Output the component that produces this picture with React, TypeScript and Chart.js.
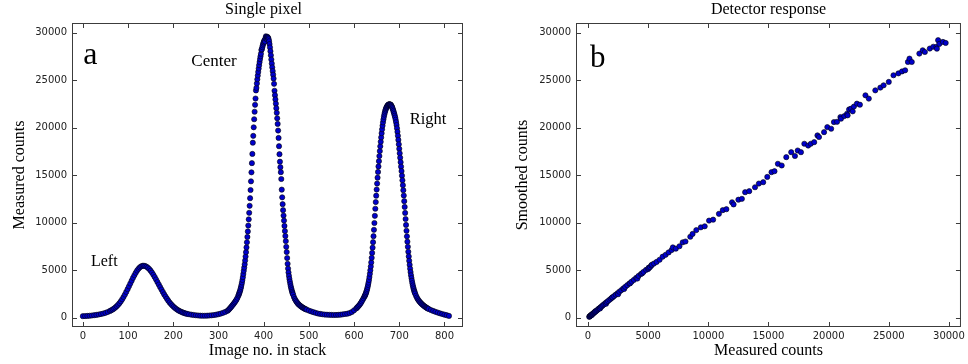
import React, { useEffect, useRef } from 'react';
import { Chart, registerables } from 'chart.js';

Chart.register(...registerables);

// ---------- Panel a: single pixel ----------
const imageTicks = [0, 100, 200, 300, 400, 500, 600, 700, 800];
const countTicks = [0, 5000, 10000, 15000, 20000, 25000, 30000];

const imageNo = [
  0, 5, 10, 15, 20, 25, 30, 35, 40, 45, 50, 55,
  60, 63, 66, 69, 72, 75, 78, 81, 84, 87, 90, 93, 96, 99, 102, 105, 108, 111, 114, 117, 120, 123, 126, 129, 132, 135,
  138, 141, 144, 147, 150, 153, 156, 159, 162, 165, 168, 171, 174, 177, 180, 183, 186, 189, 192, 195, 198, 201, 204,
  207, 210, 213, 216, 219, 222, 225, 228, 231,
  235, 240, 245, 250, 255, 260, 265, 270, 275, 280, 285, 290, 295, 300, 305, 310, 315,
  320, 322, 324, 326, 328, 330, 332, 334, 336, 338, 340, 342,
  344, 345, 346, 347, 348, 349, 350, 351, 352, 353, 354, 355, 356, 357, 358, 359, 360, 361, 362, 363, 364,
  365, 366, 367, 368, 369, 370, 371, 372, 373, 374, 375, 376, 377, 378, 379, 380, 381, 382, 383, 384,
  385, 386, 387, 388, 389, 390, 391, 392, 393, 394, 395, 396, 397, 398, 399, 400, 401, 402, 403, 404,
  405, 406, 407, 408, 409, 410, 411, 412, 413, 414, 415, 416, 417, 418, 419, 420, 421, 422, 423, 424,
  425, 426, 427, 428, 429, 430, 431, 432, 433, 434, 435, 436, 437, 438, 439, 440, 441, 442, 443, 444,
  445, 446, 447, 448, 449, 450, 451, 452, 453, 454, 455, 456, 457, 458, 459, 460, 461, 462, 463, 464, 465,
  467, 469, 471, 473, 475, 477, 479, 481, 483, 485, 487, 489, 491, 493, 495,
  500, 505, 510, 515, 520, 525, 530, 535, 540, 545, 550, 555, 560, 565, 570, 575, 580, 585, 590, 595, 600,
  605, 607, 609, 611, 613, 615, 617, 619, 621, 623,
  624, 625, 626, 627, 628, 629, 630, 631, 632, 633, 634, 635, 636, 637, 638, 639, 640, 641, 642, 643,
  644, 645, 646, 647, 648, 649, 650, 651, 652, 653, 654, 655, 656, 657, 658, 659, 660, 661, 662, 663,
  664, 665, 666, 667, 668, 669, 670, 671, 672, 673, 674, 675, 676, 677, 678, 679, 680, 681, 682, 683,
  684, 685, 686, 687, 688, 689, 690, 691, 692, 693, 694, 695, 696, 697, 698, 699, 700, 701, 702, 703,
  704, 705, 706, 707, 708, 709, 710, 711, 712, 713, 714, 715, 716, 717, 718, 719, 720, 721, 722, 723,
  724, 725, 726, 727, 728, 729, 730, 731, 732, 733, 734, 735,
  737, 739, 741, 743, 745, 747, 749, 751, 753, 755, 757, 759, 761, 763, 765,
  770, 775, 780, 785, 790, 795, 800, 805, 810,
];

const measuredCounts = [
  140, 150, 165, 185, 210, 240, 275, 315, 365, 420, 490, 580,
  690, 765, 850, 940, 1060, 1190, 1340, 1510, 1700, 1920, 2160, 2410, 2690, 2980, 3280, 3580, 3880, 4175, 4450, 4710, 4940, 5130, 5280, 5380, 5440, 5450,
  5416, 5344, 5238, 5096, 4925, 4724, 4500, 4257, 4000, 3731, 3466, 3200, 2940, 2680, 2430, 2200, 1980, 1770, 1580, 1410, 1260, 1120, 1000,
  890, 790, 705, 630, 570, 510, 460, 415, 375,
  340, 300, 265, 235, 210, 195, 185, 185, 195, 210, 230, 260, 300, 350, 410, 490, 590,
  700, 790, 890, 1000, 1110, 1230, 1350, 1470, 1600, 1740, 1890, 2070,
  2290, 2420, 2560, 2700, 2840, 3030, 3220, 3440, 3680, 3950, 4250, 4580, 4920, 5250, 5600, 6000, 6420, 6880, 7380, 7920, 8480,
  9060, 9680, 10330, 11020, 11760, 12560, 13420, 14330, 15280, 16250, 17220, 18400, 19120, 20020, 20870, 21660, 22390, 23050, 23900, 24170,
  24640, 25070, 25470, 25850, 26210, 26560, 26890, 27200, 27490, 27760, 28150, 28240, 28450, 28640, 28810, 28960, 29090, 29200, 29050, 29380,
  29600, 29500, 29300, 29540, 29500, 29420, 29290, 29080, 28780, 28430, 28030, 27600, 27160, 26730, 26330, 25940, 25560, 25150, 24600, 23870,
  23400, 22960, 22510, 22030, 21550, 20970, 20380, 19680, 18900, 18030, 17190, 16400, 15820, 15300, 14580, 13460, 12650, 11930, 11300, 10730,
  10200, 9640, 9100, 8580, 8040, 7440, 6890, 6260, 5650, 5150, 4740, 4380, 4060, 3780, 3520, 3280, 3070, 2880, 2710, 2560, 2420,
  2160, 1950, 1780, 1640, 1510, 1400, 1310, 1230, 1160, 1090, 1030, 970, 920, 870, 830,
  730, 640, 560, 490, 420, 380, 340, 310, 295, 285, 270, 265, 270, 280, 300, 330, 370, 400, 470, 580, 760,
  960, 1060, 1160, 1270, 1390, 1530, 1690, 1860, 2030, 2210,
  2300, 2410, 2530, 2670, 2830, 3010, 3210, 3430, 3670, 3950, 4260, 4600, 4970, 5370, 5800, 6280, 6800, 7350, 7930, 8560,
  9230, 9950, 10700, 11450, 12150, 12820, 13470, 14100, 14720, 15320, 15900, 16460, 17000, 17520, 18020, 18500, 18960, 19400, 19810, 20190,
  20540, 20850, 21120, 21360, 21570, 21750, 21900, 22030, 22140, 22230, 22300, 22360, 22400, 22430, 22440, 22430, 22420, 22400, 22340, 22260,
  22160, 22040, 21900, 21750, 21590, 21420, 21240, 21050, 20820, 20560, 20260, 19920, 19540, 19130, 18690, 18230, 17760, 17290, 16820, 16350,
  15880, 15410, 14930, 14440, 13930, 13400, 12840, 12250, 11640, 11010, 10370, 9740, 9130, 8540, 7980, 7440, 6920, 6430, 5970, 5540,
  5140, 4780, 4450, 4150, 3870, 3610, 3380, 3170, 2980, 2810, 2660, 2530,
  2300, 2100, 1930, 1790, 1670, 1560, 1460, 1370, 1290, 1210, 1140, 1070, 1010, 950, 900,
  790, 690, 600, 520, 440, 370, 300, 240, 170,
];

// ---------- Panel b: detector response ----------
const responseTicks = [0, 5000, 10000, 15000, 20000, 25000, 30000];

const responseMeasured = [
  100, 130, 160, 200, 230, 270, 300, 310, 350, 400, 450, 500, 560, 600, 620, 690, 760, 830, 900, 980,
  1000, 1060, 1150, 1240, 1340, 1440, 1500, 1550, 1660, 1780, 1900, 2000, 2030, 2160, 2300, 2450, 2500, 2600, 2760, 2920,
  3000, 3090, 3260, 3440, 3500, 3620, 3810, 4000, 4100, 4200, 4400, 4500, 4610, 4820, 5000, 5040, 5150, 5260, 5300, 5480,
  5700, 5950, 6200, 6450, 6700, 6950,
  7050, 7300, 7600, 7870, 8100, 8500, 8690, 9000, 9380, 9700, 10060, 10400, 10880, 11200, 11500, 11970, 12100, 12500, 12790, 13060,
  13400, 13880, 14200, 14560, 14900, 15250, 15500, 15780, 16100, 16480, 16890, 17200, 17430, 17700, 17980, 18300, 18520, 18800, 19070, 19200,
  19620, 19890, 20210, 20440, 20700, 20980, 21030, 21300, 21530, 21580, 21700, 21860, 22000, 22100, 22350, 22600, 23060, 23340, 23880, 24300,
  24570, 25000, 25390, 25800, 26100, 26360, 26590, 26720, 26910, 27540, 27820, 28000, 28410, 28700, 28960, 29000, 29100, 29200, 29500, 29730,
];

const responseSmoothed = [
  70, 110, 150, 180, 230, 260, 250, 310, 350, 390, 450, 510, 560, 650, 630, 700, 770, 860, 930, 1010,
  950, 1100, 1190, 1300, 1390, 1510, 1450, 1620, 1730, 1860, 1980, 2100, 2120, 2250, 2400, 2550, 2450, 2710, 2870, 3050,
  3000, 3220, 3400, 3580, 3600, 3770, 3960, 4170, 4100, 4380, 4580, 4650, 4800, 5010, 5100, 5240, 5300, 5470, 5550, 5680,
  5850, 6080, 6400, 6600, 6850, 7100,
  7380, 7250, 7500, 7910, 8000, 8500, 8800, 9200, 9490, 9600, 10200, 10300, 10910, 11300, 11400, 12130, 11900, 12400, 12490, 13190,
  13300, 13710, 14100, 14240, 14800, 15300, 15400, 16180, 16000, 16880, 17400, 17000, 17580, 17400, 18290, 18100, 18290, 18460, 19170, 19000,
  19510, 20040, 19870, 20570, 20600, 21100, 20930, 21200, 21450, 21280, 21900, 21980, 21700, 22200, 22510, 22400, 23390, 23040, 23910, 24200,
  24440, 24800, 25500, 25700, 25900, 26020, 26900, 27250, 26900, 27780, 28130, 27950, 28310, 28500, 28480, 28300, 29190, 28800, 29010, 28900,
];

const SERIF = '"Liberation Serif", "Times New Roman", serif';
const SANS = '"DejaVu Sans", sans-serif';

type Note = { text: string; x: number; y: number; size: number };

function framePlugin(title: string, titleDx: number, notes: Note[]) {
  return {
    id: 'frameAndText',
    afterDraw(chart: any) {
      const { ctx, chartArea } = chart;
      const { left, right, top, bottom } = chartArea;
      const xs = chart.scales.x;
      const ys = chart.scales.y;
      ctx.save();
      ctx.strokeStyle = '#3c3c3c';
      ctx.lineWidth = 1;
      ctx.strokeRect(left + 0.5, top + 0.5, right - left - 1, bottom - top - 1);
      ctx.beginPath();
      const tl = 5;
      xs.ticks.forEach((t: any) => {
        const px = Math.round(xs.getPixelForValue(t.value)) + 0.5;
        ctx.moveTo(px, bottom);
        ctx.lineTo(px, bottom - tl);
        ctx.moveTo(px, top);
        ctx.lineTo(px, top + tl);
      });
      ys.ticks.forEach((t: any) => {
        const py = Math.round(ys.getPixelForValue(t.value)) + 0.5;
        ctx.moveTo(left, py);
        ctx.lineTo(left + tl, py);
        ctx.moveTo(right, py);
        ctx.lineTo(right - tl, py);
      });
      ctx.stroke();

      ctx.fillStyle = '#000';
      ctx.textBaseline = 'alphabetic';
      ctx.textAlign = 'center';
      ctx.font = `16px ${SERIF}`;
      ctx.fillText(title, (left + right) / 2 + titleDx, 13.5);

      ctx.textAlign = 'left';
      notes.forEach((n) => {
        ctx.font = `${n.size}px ${SERIF}`;
        ctx.fillText(n.text, xs.getPixelForValue(n.x), ys.getPixelForValue(n.y));
      });
      ctx.restore();
    },
  };
}

function buildConfig(p: {
  xs: number[];
  ys: number[];
  xMin: number;
  xMax: number;
  xTicks: number[];
  yTicks: number[];
  yAxisWidth: number;
  padRight: number;
  xTitle: string;
  yTitle: string;
  yTitlePad: number;
  title: string;
  titleDx: number;
  notes: Note[];
}): any {
  const points = p.xs.map((x, i) => ({ x, y: p.ys[i] }));
  return {
    type: 'scatter',
    data: {
      datasets: [
        {
          data: points,
          pointRadius: 2.6,
          pointBorderWidth: 0.6,
          pointBackgroundColor: '#0000cc',
          pointBorderColor: '#000000',
          showLine: false,
        },
      ],
    },
    options: {
      responsive: false,
      animation: false,
      events: [],
      layout: { padding: { left: 0, right: p.padRight, top: 23, bottom: 0 } },
      plugins: {
        legend: { display: false },
        title: { display: false },
        tooltip: { enabled: false },
      },
      scales: {
        x: {
          type: 'linear',
          min: p.xMin,
          max: p.xMax,
          afterBuildTicks: (s: any) => {
            s.ticks = p.xTicks.map((v) => ({ value: v }));
          },
          afterFit: (s: any) => {
            s.height = 37;
          },
          grid: { display: false, drawTicks: false },
          border: { display: false },
          ticks: {
            autoSkip: false,
            maxRotation: 0,
            padding: 3,
            color: '#222',
            font: { family: SANS, size: 10 },
            callback: (v: any) => String(v),
          },
          title: {
            display: true,
            text: p.xTitle,
            color: '#000',
            font: { family: SERIF, size: 16 },
            padding: { top: 0, bottom: 4 },
          },
        },
        y: {
          type: 'linear',
          min: -1000,
          max: 31000,
          afterBuildTicks: (s: any) => {
            s.ticks = p.yTicks.map((v) => ({ value: v }));
          },
          afterFit: (s: any) => {
            s.width = p.yAxisWidth;
          },
          grid: { display: false, drawTicks: false },
          border: { display: false },
          ticks: {
            autoSkip: false,
            padding: 5,
            color: '#222',
            font: { family: SANS, size: 10 },
            callback: (v: any) => String(v),
          },
          title: {
            display: true,
            text: p.yTitle,
            color: '#000',
            font: { family: SERIF, size: 16 },
            padding: { top: p.yTitlePad, bottom: 0 },
          },
        },
      },
    },
    plugins: [framePlugin(p.title, p.titleDx, p.notes)],
  };
}

export default function App() {
  const refA = useRef<HTMLCanvasElement>(null);
  const refB = useRef<HTMLCanvasElement>(null);

  useEffect(() => {
    const a = new Chart(
      refA.current as HTMLCanvasElement,
      buildConfig({
        xs: imageNo,
        ys: measuredCounts,
        xMin: -24,
        xMax: 841,
        xTicks: imageTicks,
        yTicks: countTicks,
        yAxisWidth: 72,
        padRight: 21,
        xTitle: 'Image no. in stack',
        yTitle: 'Measured counts',
        yTitlePad: 10,
        title: 'Single pixel',
        titleDx: -4,
        notes: [
          { text: 'a', x: 1, y: 26730, size: 32 },
          { text: 'Center', x: 240, y: 26480, size: 17 },
          { text: 'Left', x: 18, y: 5450, size: 16 },
          { text: 'Right', x: 723, y: 20400, size: 16.5 },
        ],
      })
    );
    const b = new Chart(
      refB.current as HTMLCanvasElement,
      buildConfig({
        xs: responseMeasured,
        ys: responseSmoothed,
        xMin: -1000,
        xMax: 31000,
        xTicks: responseTicks,
        yTicks: countTicks,
        yAxisWidth: 92,
        padRight: 5,
        xTitle: 'Measured counts',
        yTitle: 'Smoothed counts',
        yTitlePad: 29,
        title: 'Detector response',
        titleDx: 0,
        notes: [{ text: 'b', x: 164, y: 26370, size: 31 }],
      })
    );
    return () => {
      a.destroy();
      b.destroy();
    };
  }, []);

  return (
    <div style={{ position: 'fixed', left: 0, top: 0, width: 968, height: 364, background: '#fff' }}>
      <canvas
        ref={refA}
        width={484}
        height={364}
        style={{ position: 'absolute', left: 0, top: 0, width: 484, height: 364 }}
      />
      <canvas
        ref={refB}
        width={484}
        height={364}
        style={{ position: 'absolute', left: 484, top: 0, width: 484, height: 364 }}
      />
    </div>
  );
}
